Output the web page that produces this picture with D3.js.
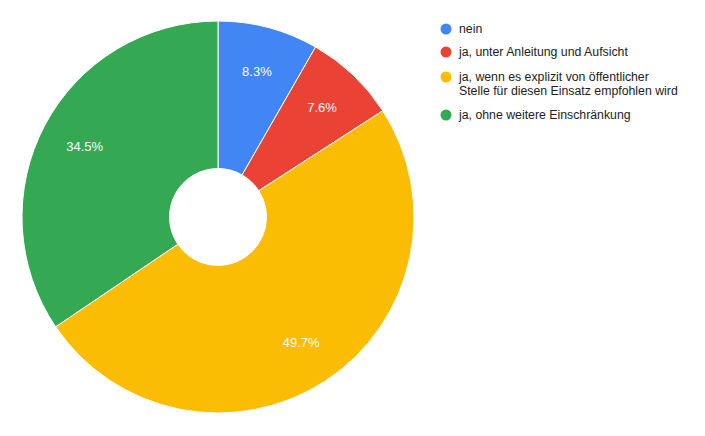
<!DOCTYPE html>
<html>
<head>
<meta charset="utf-8">
<script src="https://cdn.jsdelivr.net/npm/d3@7"></script>
<style>
  body { margin: 0; background: #fff; }
  svg { font-family: Arial, "Liberation Sans", sans-serif; }
</style>
</head>
<body>
<div id="chart"></div>
<script>
// Data
const categories = [
    "nein",
    "ja, unter Anleitung und Aufsicht",
    "ja, wenn es explizit von öffentlicher|Stelle für diesen Einsatz empfohlen wird",
    "ja, ohne weitere Einschränkung"
];
const values = [8.3, 7.6, 49.7, 34.5];
const colors = ["#4285f4", "#ea4335", "#fbbc04", "#34a853"];

const width = 705, height = 436;
const cx = 218, cy = 217;
const outerR = 196, innerR = 48.5, labelR = 151;

const svg = d3.select("#chart")
              .append("svg")
              .attr("width", width)
              .attr("height", height);

const data = categories.map((c, i) => ({ name: c, value: values[i], color: colors[i] }));

const pie = d3.pie()
              .value(d => d.value)
              .sort(null);

const arc = d3.arc()
              .innerRadius(innerR)
              .outerRadius(outerR);

const labelArc = d3.arc()
                   .innerRadius(labelR)
                   .outerRadius(labelR);

const g = svg.append("g")
             .attr("transform", `translate(${cx},${cy})`);

const arcs = pie(data);

// Draw slices
g.selectAll("path")
  .data(arcs)
  .enter()
  .append("path")
  .attr("d", arc)
  .attr("fill", d => d.data.color)
  .attr("stroke", "#fff")
  .attr("stroke-width", 1);

// Percent labels
g.selectAll("text.pct")
  .data(arcs)
  .enter()
  .append("text")
  .attr("class", "pct")
  .attr("transform", d => `translate(${labelArc.centroid(d)})`)
  .attr("text-anchor", "middle")
  .attr("dominant-baseline", "central")
  .attr("fill", "#fff")
  .style("font-size", "13px")
  .text(d => d.data.value.toFixed(1) + "%");

// Legend
const legendRows = [29, 52, 77, 115];
const legend = svg.append("g");

data.forEach((d, i) => {
    legend.append("circle")
          .attr("cx", 446)
          .attr("cy", legendRows[i])
          .attr("r", 5.5)
          .attr("fill", d.color);

    const lines = d.name.split("|");
    lines.forEach((line, j) => {
        legend.append("text")
              .attr("x", 459)
              .attr("y", legendRows[i] + j * 14)
              .attr("dominant-baseline", "central")
              .attr("fill", "#222")
              .style("font-size", "12.3px")
              .text(line);
    });
});
</script>
</body>
</html>
